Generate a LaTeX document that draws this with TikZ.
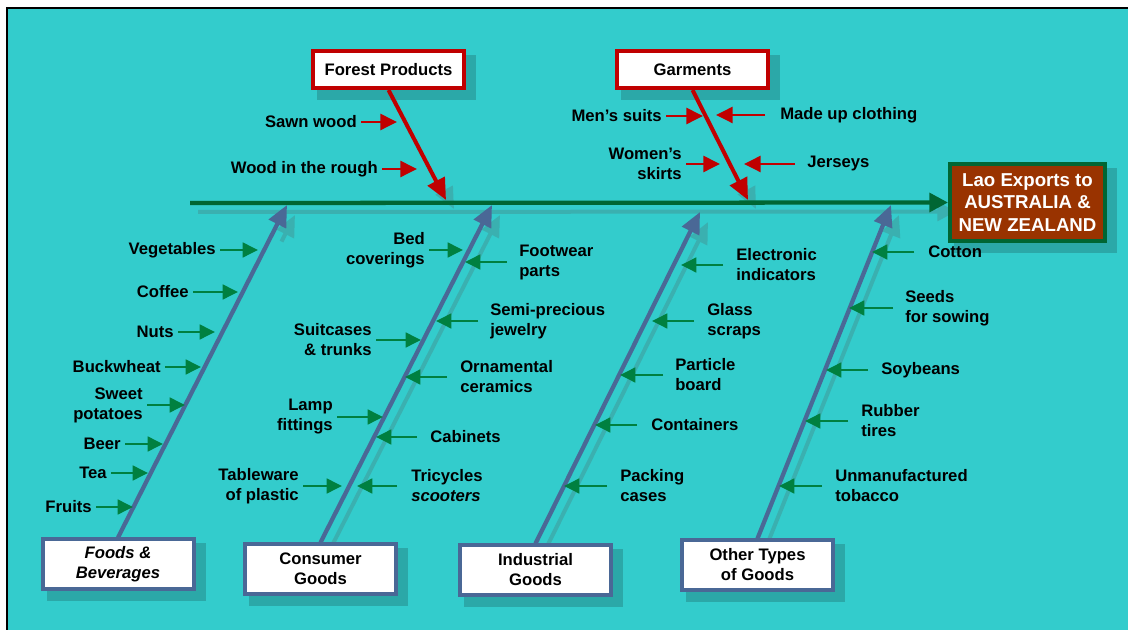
\documentclass[tikz,border=0pt]{standalone}
\usepackage{fontspec}
\setmainfont{Liberation Sans}
\usetikzlibrary{arrows.meta,calc}
\definecolor{bgc}{HTML}{33CCCC}
\definecolor{spinec}{HTML}{006633}
\definecolor{headc}{HTML}{993300}
\definecolor{redc}{HTML}{C00000}
\definecolor{bonec}{HTML}{4A6896}
\definecolor{arrc}{HTML}{008040}
\definecolor{boxsh}{HTML}{2BA8A8}
\definecolor{linesh}{HTML}{3AB0B0}
\pgfdeclarelayer{bgl}
\pgfdeclarelayer{shl}
\pgfdeclarelayer{lnl}
\pgfsetlayers{bgl,shl,lnl,main}
\newcommand\lfishlbl[6]{%
 \node[lbl,anchor=east,align=right] (#1) at (#2,#3) {#5};
 \coordinate (#1T) at (#4,#3);
 \draw[#6] ($(#1.east)+(4,0)$) -- (#1T);}
\newcommand\rfishlbl[7]{%
 \node[lbl,anchor=west,align=left] (#1) at (#2,#3) {#6};
 \coordinate (#1T) at (#5,#3);
 \draw[#7] ($(#1.west)+(#4-#2,0)$) -- (#1T);}
\begin{document}
\begin{tikzpicture}[x=0.75pt,y=-0.75pt,
 lbl/.style={font=\fontsize{12.5}{15}\selectfont\bfseries, inner sep=0pt, text=black},
 garr/.style={draw=arrc, line width=1.9pt, -{Triangle[length=11.5pt,width=11pt]}},
 rarr/.style={draw=redc, line width=1.9pt, -{Triangle[length=12.5pt,width=12pt]}},
 redbox/.style={draw=redc, line width=3pt, fill=white, minimum width=113.25pt, minimum height=27.75pt, inner sep=0pt, font=\fontsize{12.5}{15}\selectfont\bfseries},
 catbox/.style={draw=bonec, line width=3pt, fill=white, minimum width=113.25pt, minimum height=36.75pt, inner sep=0pt, align=center, font=\fontsize{12.5}{15}\selectfont\bfseries},
 headbox/.style={draw=spinec, line width=3pt, fill=headc, text=white, minimum width=116.25pt, minimum height=57.75pt, inner sep=0pt, align=center, font=\fontsize{14}{17}\selectfont\bfseries},
 spinestyle/.style={draw=spinec, line width=3.2pt, -{Triangle[length=14pt,width=14pt]}},
 redbone/.style={draw=redc, line width=3pt, -{Triangle[length=16pt,width=14pt]}},
 bluebone/.style={draw=bonec, line width=3.2pt, -{Triangle[length=16pt,width=14pt]}},
 shline/.style={draw=linesh, line width=3pt, -{Triangle[length=16pt,width=14pt]}},
]
\useasboundingbox (0,0) rectangle (1128,630);

% boxes
\node[redbox] (forest) at (388.5,69.5) {Forest Products};
\node[redbox] (garm) at (692.5,69.5) {Garments};
\node[headbox] (head) at (1027.5,202.5) {Lao Exports to\\AUSTRALIA \&\\NEW ZEALAND};
\node[catbox, font=\fontsize{12.5}{15}\selectfont\bfseries\itshape] (foods) at (118,564) {Foods \&\\Beverages};
\node[catbox] (cons) at (320.5,569) {Consumer\\Goods};
\node[catbox] (ind) at (535.5,570) {Industrial\\Goods};
\node[catbox] (oth) at (757.5,565) {Other Types\\of Goods};

% coordinates
\coordinate (spineS) at (190,203);
\coordinate (tipFP) at (446,200);
\coordinate (tipG) at (748,200);
\coordinate (tipF) at (287,205);
\coordinate (tipC) at (492,205);
\coordinate (tipI) at (700,212);
\coordinate (tipO) at (891,205);

\begin{pgfonlayer}{bgl}
 \clip (0,0) rectangle (1128,630);
 \fill[bgc] (7,8) rectangle (1140,640);
 \draw[black,line width=0.9pt] (7,640) -- (7,8) -- (1140,8);
\end{pgfonlayer}

\begin{pgfonlayer}{shl}
 \foreach \n in {forest,garm,head,foods,cons,ind,oth}
  \filldraw[boxsh,line width=3pt] ($(\n.south west)+(8,8)$) rectangle ($(\n.north east)+(8,8)$);
 \draw[shline,-{Triangle[length=14pt,width=14pt]}] ($(spineS)+(8,9)$) -- ($(head.west)+(8,9)$);
 \draw[shline] ($(forest.south)!0.75!(tipFP)+(8,9)$) -- ($(tipFP)+(8,9)$);
 \draw[shline] ($(garm.south)!0.75!(tipG)+(8,9)$) -- ($(tipG)+(8,9)$);
 \draw[shline] ($(foods.north)!0.92!(tipF)+(8,10)$) -- ($(tipF)+(8,10)$);
 \draw[shline] ($(cons.north)+(8,10)$) -- ($(tipC)+(8,10)$);
 \draw[shline] ($(ind.north)+(8,10)$) -- ($(tipI)+(8,10)$);
 \draw[shline] ($(oth.north)+(8,10)$) -- ($(tipO)+(8,10)$);
\end{pgfonlayer}

\begin{pgfonlayer}{lnl}
 \draw[spinestyle] (spineS) -- (head.west);
 \draw[redbone] (forest.south) -- (tipFP);
 \draw[redbone] (garm.south) -- (tipG);
 \draw[bluebone] (foods.north) -- (tipF);
 \draw[bluebone] (cons.north) -- (tipC);
 \draw[bluebone] (ind.north) -- (tipI);
 \draw[bluebone] (oth.north) -- (tipO);
\end{pgfonlayer}

% Forest products / garments
\lfishlbl{sawn}{357}{122}{397}{Sawn wood}{rarr}
\lfishlbl{rough}{378}{169}{417}{Wood in the rough}{rarr}
\lfishlbl{mens}{662}{116}{703}{Men’s suits}{rarr}
\lfishlbl{women}{682}{164}{720}{Women’s\\skirts}{rarr}
\rfishlbl{made}{780}{115}{765}{716}{Made up clothing}{rarr}
\rfishlbl{jers}{807}{164}{795}{744}{Jerseys}{rarr}

% Foods
\lfishlbl{veg}{216}{250}{258}{Vegetables}{garr}
\lfishlbl{coffee}{189}{292}{238}{Coffee}{garr}
\lfishlbl{nuts}{174}{332}{215}{Nuts}{garr}
\lfishlbl{buck}{161}{367}{201}{Buckwheat}{garr}
\lfishlbl{sweet}{143}{405}{185}{Sweet\\potatoes}{garr}
\lfishlbl{beer}{121}{444}{163}{Beer}{garr}
\lfishlbl{tea}{107}{473}{148}{Tea}{garr}
\lfishlbl{fruits}{92}{507}{133}{Fruits}{garr}

% Consumer
\lfishlbl{bed}{425}{250}{463}{Bed\\coverings}{garr}
\lfishlbl{suit}{372}{340}{421}{Suitcases\\\& trunks}{garr}
\lfishlbl{lamp}{333}{417}{383}{Lamp\\fittings}{garr}
\lfishlbl{table}{299}{486}{342}{Tableware\\of plastic}{garr}
\rfishlbl{foot}{519}{262}{507}{465}{Footwear\\parts}{garr}
\rfishlbl{semi}{490}{321}{478}{436}{Semi-precious\\jewelry}{garr}
\rfishlbl{orn}{460}{377}{447}{405}{Ornamental\\ceramics}{garr}
\rfishlbl{cab}{430}{437}{417}{376}{Cabinets}{garr}
\rfishlbl{tri}{411}{486}{397}{357}{Tricycles\\\textit{scooters}}{garr}

% Industrial
\rfishlbl{elec}{736}{265}{723}{681}{Electronic\\indicators}{garr}
\rfishlbl{glass}{707}{321}{694}{652}{Glass\\scraps}{garr}
\rfishlbl{part}{675}{375}{663}{620}{Particle\\board}{garr}
\rfishlbl{cont}{651}{425}{637}{595}{Containers}{garr}
\rfishlbl{pack}{620}{486}{607}{564}{Packing\\cases}{garr}

% Other
\rfishlbl{cotton}{928}{252}{914}{872}{Cotton}{garr}
\rfishlbl{seeds}{905}{308}{893}{849}{Seeds\\for sowing}{garr}
\rfishlbl{soy}{881}{370}{868}{826}{Soybeans}{garr}
\rfishlbl{rubber}{861}{421}{848}{805}{Rubber\\tires}{garr}
\rfishlbl{tob}{835}{486}{822}{779}{Unmanufactured\\tobacco}{garr}
\end{tikzpicture}
\end{document}
